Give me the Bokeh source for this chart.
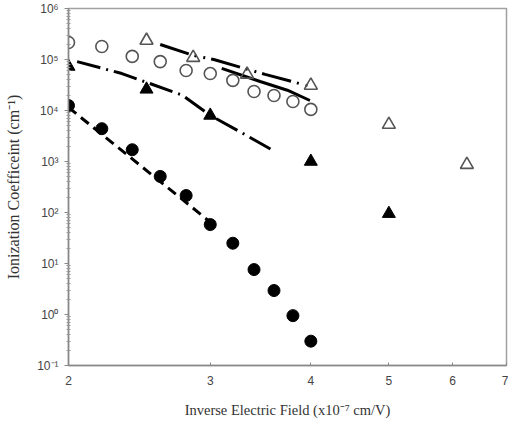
from bokeh.plotting import figure
from bokeh.models import FixedTicker, Range1d
from bokeh.embed import file_html
from bokeh.resources import INLINE

# Data (x: inverse field in 1e-7 cm/V, y: ionization coefficient in 1/cm)
oc_x = [2.0, 2.2, 2.4, 2.6, 2.8, 3.0, 3.2, 3.4, 3.6, 3.8, 4.0]
oc_y = [2.15e5, 1.8e5, 1.15e5, 9.1e4, 6.1e4, 5.3e4, 3.9e4, 2.36e4, 1.97e4, 1.5e4, 1.05e4]

ot_x = [2.5, 2.857, 3.333, 4.0, 5.0, 6.25]
ot_y = [2.36e5, 1.09e5, 5.1e4, 3.1e4, 5.3e3, 870]

ft_x = [2.0, 2.5, 3.0, 4.0, 5.0]
ft_y = [7.3e4, 2.6e4, 8.0e3, 1.0e3, 95]

fc_x = [2.0, 2.2, 2.4, 2.6, 2.8, 3.0, 3.2, 3.4, 3.6, 3.8, 4.0]
fc_y = [1.25e4, 4.4e3, 1.7e3, 510, 215, 58, 25, 7.6, 2.95, 0.95, 0.3]

# fitted curves
l1_x = [2.0, 3.0]
l1_y = [1.15e4, 65]
l2_x = [2.05, 2.33, 2.77, 3.0, 3.3, 3.6]
l2_y = [9.1e4, 5.3e4, 2.0e4, 8e3, 3.5e3, 1.6e3]
l3_x = [2.6, 2.86, 3.03, 3.51, 4.0]
l3_y = [1.97e5, 1.2e5, 1.0e5, 5.1e4, 2.95e4]
l4_x = [3.1, 3.46, 3.74, 3.99]
l4_y = [6.7e4, 3.7e4, 2.5e4, 1.57e4]

y_ticks = [0.1, 1, 10, 100, 1e3, 1e4, 1e5, 1e6]
y_labels = ["10\u207b\u00b9", "10\u2070", "10\u00b9", "10\u00b2", "10\u00b3", "10\u2074", "10\u2075", "10\u2076"]
x_ticks = [2, 3, 4, 5, 6, 7]

p = figure(width=508, height=420, x_axis_type="log", y_axis_type="log",
           x_range=Range1d(2, 7), y_range=Range1d(0.1, 1e6),
           output_backend="svg", toolbar_location=None,
           min_border_left=68, min_border_right=2, min_border_top=8, min_border_bottom=55)
p.grid.visible = False
p.outline_line_color = "#a0a0a0"
p.outline_line_width = 1.5
p.background_fill_color = "white"
p.border_fill_color = "white"

minor = []
for e in range(-1, 6):
    for k in range(2, 10):
        minor.append(k * 10.0 ** e)
p.yaxis.ticker = FixedTicker(ticks=y_ticks, minor_ticks=minor)
p.yaxis.major_label_overrides = {t: l for t, l in zip(y_ticks, y_labels)}
p.xaxis.ticker = FixedTicker(ticks=x_ticks, minor_ticks=[])
p.xaxis.major_label_overrides = {t: str(t) for t in x_ticks}

for ax in (p.xaxis, p.yaxis):
    ax.axis_line_color = "#888888"
    ax.axis_line_width = 1.5
    ax.major_tick_line_color = "#888888"
    ax.minor_tick_line_color = "#999999"
    ax.major_label_text_font = "Liberation Sans"
    ax.major_label_text_font_size = "12px"
    ax.major_label_text_color = "#444444"
    ax.axis_label_text_font = "Liberation Serif"
    ax.axis_label_text_color = "#333333"
    ax.axis_label_text_font_style = "normal"

p.yaxis.major_tick_in = 0
p.yaxis.major_tick_out = 4
p.yaxis.minor_tick_in = 2
p.yaxis.minor_tick_out = 2
p.xaxis.major_tick_in = 3
p.xaxis.major_tick_out = 0
p.xaxis.major_label_standoff = 10
p.yaxis.major_label_standoff = 6

p.xaxis.axis_label = "Inverse Electric Field (x10\u207b\u2077 cm/V)"
p.xaxis.axis_label_text_font_size = "14.5px"
p.xaxis.axis_label_standoff = 14
p.yaxis.axis_label = "Ionization Coefficeint (cm\u207b\u00b9)"
p.yaxis.axis_label_text_font_size = "16px"
p.yaxis.axis_label_standoff = 12

# lines
p.line(l1_x, l1_y, line_color="black", line_width=3, line_dash="10 6")
p.line(l2_x, l2_y, line_color="black", line_width=3, line_dash="24 6 2 6")
p.line(l3_x, l3_y, line_color="black", line_width=3, line_dash="30 6 2 7 2 6")
p.line(l4_x, l4_y, line_color="black", line_width=3)

# markers
p.scatter(oc_x, oc_y, marker="circle", size=12, fill_color=None, line_color="#555555", line_width=1.6)
p.scatter(ot_x, ot_y, marker="triangle", size=13, fill_color=None, line_color="#555555", line_width=1.6)
p.scatter(ft_x, ft_y, marker="triangle", size=13, fill_color="black", line_color="black")
p.scatter(fc_x, fc_y, marker="circle", size=12, fill_color="black", line_color="black")

open("out.html", "w").write(file_html(p, INLINE))
